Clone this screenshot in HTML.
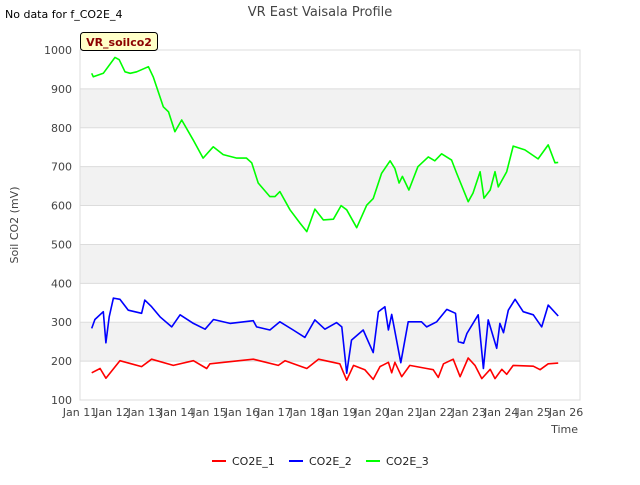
<!DOCTYPE html>
<html><head><meta charset="utf-8"><style>
body{margin:0;background:#fff;font-family:"Liberation Sans","DejaVu Sans",sans-serif;}
svg text{font-family:"DejaVu Sans","Liberation Sans",sans-serif;}
</style></head><body>
<svg id="chart" width="640" height="480" xmlns="http://www.w3.org/2000/svg">
<rect x="0" y="0" width="640" height="480" fill="#fff"/>
<g id="grid"></g>
<g id="series"></g>
<g id="axes"></g>
<text x="320" y="16" text-anchor="middle" font-size="13" fill="#444">VR East Vaisala Profile</text>
<text x="5" y="18" font-size="11" fill="#000">No data for f_CO2E_4</text>
<rect x="80.5" y="32.5" width="77" height="18" rx="3" fill="#ffffc8" stroke="#000"/>
<text x="119" y="46" text-anchor="middle" font-size="11" font-weight="bold" fill="#8b0000">VR_soilco2</text>
<text x="18" y="225" transform="rotate(-90 18 225)" text-anchor="middle" font-size="11" fill="#444">Soil CO2 (mV)</text>
<text x="578" y="433" text-anchor="end" font-size="11" fill="#444">Time</text>
<g id="legend"></g>
</svg>
<script>
const NS="http://www.w3.org/2000/svg";
const yTicks=[100,200,300,400,500,600,700,800,900,1000];
const xTickLabels=["Jan 11","Jan 12","Jan 13","Jan 14","Jan 15","Jan 16","Jan 17","Jan 18","Jan 19","Jan 20","Jan 21","Jan 22","Jan 23","Jan 24","Jan 25","Jan 26"];
const seriesNames=["CO2E_1","CO2E_2","CO2E_3"];
const seriesColors=["#ff0000","#0000ff","#00ff00"];
const co2e1Days=[0.36,0.62,0.80,1.23,1.90,2.21,2.88,3.50,3.91,4.01,5.35,6.12,6.33,7.0,7.36,8.02,8.23,8.44,8.79,9.05,9.26,9.52,9.62,9.72,9.93,10.18,10.70,10.90,11.06,11.22,11.52,11.73,11.98,12.19,12.40,12.66,12.81,13.02,13.17,13.37,13.99,14.20,14.45,14.76];
const co2e1Vals=[170,181,156,201,186,205,189,201,181,193,205,189,201,181,205,193,151,189,178,153,186,197,170,197,160,189,181,178,158,193,205,160,208,189,155,179,155,179,166,189,187,178,193,195];
const co2e2Days=[0.36,0.46,0.72,0.80,0.90,1.03,1.23,1.49,1.90,2.0,2.21,2.47,2.83,3.09,3.50,3.86,4.12,4.63,5.35,5.45,5.86,6.17,6.58,6.94,7.25,7.56,7.92,8.08,8.23,8.38,8.74,8.92,9.05,9.21,9.41,9.52,9.62,9.90,10.13,10.54,10.70,11.01,11.32,11.59,11.68,11.84,11.94,12.29,12.45,12.60,12.86,12.96,13.07,13.22,13.43,13.68,13.99,14.25,14.45,14.76];
const co2e2Vals=[284,307,327,247,314,362,359,331,323,357,340,314,288,319,297,282,307,297,304,288,280,301,280,261,306,282,299,288,169,254,280,246,222,327,340,280,320,196,301,301,288,301,333,323,250,246,271,319,181,306,233,297,273,331,359,327,319,288,344,316];
const co2e3Days=[0.36,0.41,0.72,1.08,1.21,1.39,1.55,1.75,2.11,2.26,2.57,2.73,2.93,3.14,3.49,3.80,4.11,4.42,4.84,5.14,5.30,5.50,5.86,6.02,6.17,6.48,6.79,7.0,7.25,7.51,7.82,8.06,8.23,8.54,8.85,9.05,9.31,9.57,9.72,9.85,9.95,10.15,10.43,10.75,10.95,11.16,11.47,11.62,11.98,12.13,12.35,12.47,12.66,12.81,12.91,13.17,13.37,13.73,14.14,14.45,14.66,14.76];
const co2e3Vals=[940,931,940,981,975,944,940,944,957,931,854,841,790,820,769,722,751,731,722,722,710,658,623,623,636,589,555,533,591,563,565,600,589,543,601,618,683,715,695,658,675,640,700,725,715,733,717,684,610,632,687,619,640,687,648,687,753,743,720,756,710,711];
const L=80,R=580,T=50,B=400,X0=80,DX=32.4;
const yS=v=>B-(v-100)*(B-T)/900;
const xS=d=>X0+d*DX;
function mk(tag,attrs,parent){const e=document.createElementNS(NS,tag);for(const k in attrs)e.setAttribute(k,attrs[k]);parent.appendChild(e);return e;}
const grid=document.getElementById('grid'),axes=document.getElementById('axes'),ser=document.getElementById('series'),leg=document.getElementById('legend');
for(let i=0;i<yTicks.length-1;i++){
  if(i%2===1){const b=mk('rect',{x:L,y:yS(yTicks[i+1]),width:R-L,height:yS(yTicks[i])-yS(yTicks[i+1]),fill:'#f2f2f2'},grid);
  
  }
}
yTicks.forEach(v=>{
  const g=mk('line',{x1:L,x2:R,y1:yS(v),y2:yS(v),stroke:'#dcdcdc','stroke-width':1},grid);
  
  
  const t=mk('text',{x:L-8,y:yS(v)+4,'text-anchor':'end','font-size':11,fill:'#444'},axes);t.textContent=v;
  
  
});
mk('rect',{x:L,y:T,width:R-L,height:B-T,fill:'none',stroke:'#dcdcdc'},axes);
xTickLabels.forEach((s,i)=>{
  const t=mk('text',{x:xS(i),y:B+16,'text-anchor':'middle','font-size':11,fill:'#444'},axes);t.textContent=s;
  
  
});
const data=[[co2e1Days,co2e1Vals],[co2e2Days,co2e2Vals],[co2e3Days,co2e3Vals]];
data.forEach((d,k)=>{
  const pts=d[0].map((x,i)=>xS(x).toFixed(1)+','+yS(d[1][i]).toFixed(1)).join(' ');
  const p=mk('polyline',{points:pts,fill:'none',stroke:seriesColors[k],'stroke-width':1.6,'stroke-linejoin':'round'},ser);
  
  
});
const lx=[212,289,366];
seriesNames.forEach((n,k)=>{
  const l=mk('line',{x1:lx[k],x2:lx[k]+14,y1:461,y2:461,stroke:seriesColors[k],'stroke-width':2},leg);
  
  
  const t=mk('text',{x:lx[k]+20,y:465,'font-size':11,fill:'#222'},leg);t.textContent=n;
  
  
});
</script>
</body></html>
